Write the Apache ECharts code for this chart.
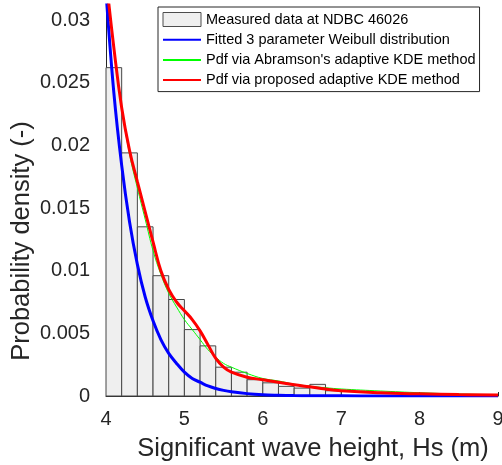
<!DOCTYPE html>
<html>
<head>
<meta charset="utf-8">
<script src="https://cdn.jsdelivr.net/npm/echarts@6/dist/echarts.min.js"></script>
<style>
html,body{margin:0;padding:0;background:#fff;overflow:hidden;}
#chart{width:502px;height:465px;}
</style>
</head>
<body>
<div id="chart"></div>
<script>
// Histogram bins (left edges / right edges) and densities
const binLeft  = [4.0,4.2,4.4,4.6,4.8,5.0,5.2,5.4,5.6,5.8,6.0,6.2,6.4,6.6,6.8];
const binRight = [4.2,4.4,4.6,4.8,5.0,5.2,5.4,5.6,5.8,6.0,6.2,6.4,6.6,6.8,7.0];
const binDensity = [0.0262,0.0194,0.0135,0.0096,0.0077,0.0053,0.0040,0.0023,0.0019,0.0013,0.00105,0.00077,0.00063,0.00093,0.00042];

// Curve sample positions and values
const curveX = [4.0,4.1,4.2,4.3,4.4,4.5,4.6,4.7,4.8,4.9,5.0,5.1,5.2,5.3,5.4,5.5,5.6,5.8,6.0,6.2,6.4,6.6,6.8,7.0,7.5,8.0,8.5,9.0];
const weibullPdf = [0.0322,0.0242,0.0184,0.0139,0.0105,0.0079,0.0060,0.0045,0.0034,0.0026,0.0019,0.0014,0.0011,0.0008,0.0006,0.00045,0.00034,0.00019,0.0001,0.00006,0.00003,0.00002,0.00001,0.00001,0,0,0,0];
const abramsonPdf = [0.0334,0.0278,0.0230,0.0193,0.0166,0.0141,0.0116,0.0097,0.0082,0.0071,0.0061,0.0053,0.0045,0.0037,0.0031,0.0026,0.0023,0.0018,0.0014,0.0012,0.00095,0.00078,0.00066,0.00056,0.0004,0.00026,0.00016,0.0001];
const proposedPdf = [0.0334,0.0278,0.0230,0.0196,0.0171,0.0147,0.0123,0.0100,0.0085,0.0075,0.0068,0.0061,0.0052,0.0041,0.0030,0.0023,0.0019,0.0015,0.0013,0.0011,0.0009,0.00073,0.00055,0.00042,0.00026,0.00017,0.00011,0.00008];

// Tick labels
const xTicks = [4,5,6,7,8,9];
const yTicks = [0,0.005,0.01,0.015,0.02,0.025,0.03];

const seriesNames = ['Measured data at NDBC 46026','Fitted 3 parameter Weibull distribution',"Pdf via Abramson's adaptive KDE method",'Pdf via proposed adaptive KDE method'];
const xTitle = 'Significant wave height, Hs (m)';
const yTitle = 'Probability density (-)';

const FONT = '"Liberation Sans", Arial, sans-serif';
const TXT = '#262626';

const chart = echarts.init(document.getElementById('chart'), null, {renderer:'canvas'});
const zip = (xs, ys) => xs.map((x,i)=>[x, ys[i]]);

const option = {
  animation:false,
  backgroundColor:'#fff',
  textStyle:{fontFamily:FONT},
  grid:{left:106, right:4, top:5, bottom:69, containLabel:false, outerBoundsMode:'none'},
  xAxis:{
    type:'value', min:4, max:9, interval:1,
    axisLine:{show:true, onZero:false, lineStyle:{color:TXT, width:1}},
    axisTick:{show:true, inside:true, length:4, lineStyle:{color:TXT}, customValues:xTicks},
    axisLabel:{color:TXT, fontSize:20, fontFamily:FONT, margin:13, customValues:xTicks, hideOverlap:false},
    splitLine:{show:false}
  },
  yAxis:{
    type:'value', min:0, max:0.0312,
    axisLine:{show:true, lineStyle:{color:TXT, width:1}},
    axisTick:{show:true, inside:true, length:4, lineStyle:{color:TXT}, customValues:yTicks},
    axisLabel:{color:TXT, fontSize:20, fontFamily:FONT, margin:16, customValues:yTicks,
      formatter:v=>String(+v.toFixed(4))},
    splitLine:{show:false}
  },
  legend:{
    orient:'vertical', left:158, top:7,
    padding:[5,4,4,4],
    itemWidth:38, itemHeight:14, itemGap:5.2,
    backgroundColor:'#fff', borderColor:TXT, borderWidth:1,
    textStyle:{color:'#000', fontSize:14.5, fontFamily:FONT, lineHeight:14},
    data:[
      {name:seriesNames[0], icon:'rect', itemStyle:{color:'#efefef', borderColor:'#4d4d4d', borderWidth:1}},
      {name:seriesNames[1], itemStyle:{opacity:0}},
      {name:seriesNames[2], itemStyle:{opacity:0}},
      {name:seriesNames[3], itemStyle:{opacity:0}}
    ]
  },
  graphic:[
    {type:'text', x:313, y:449, style:{text:xTitle, font:'25.5px '+FONT, fill:TXT, textAlign:'center', textVerticalAlign:'middle'}},
    {type:'text', x:22, y:241, rotation:Math.PI/2, style:{text:yTitle, font:'25.5px '+FONT, fill:TXT, textAlign:'center', textVerticalAlign:'middle'}}
  ],
  series:[
    {
      name:seriesNames[0], type:'custom',
      data:binLeft.map((l,i)=>[l, binRight[i], binDensity[i]]),
      encode:{x:[0,1], y:2},
      itemStyle:{color:'#efefef', borderColor:'#4d4d4d', borderWidth:1},
      renderItem:function(params, api){
        const p0 = api.coord([api.value(0), api.value(2)]);
        const p1 = api.coord([api.value(1), 0]);
        return {type:'rect', shape:{x:p0[0], y:p0[1], width:p1[0]-p0[0], height:p1[1]-p0[1]},
          style:{fill:'#efefef', stroke:'#474747', lineWidth:1}};
      },
      z:1
    },
    {name:seriesNames[1], type:'line', data:zip(curveX, weibullPdf), smooth:0.35,
      symbol:'none', lineStyle:{color:'#0000ff', width:3}, itemStyle:{color:'#0000ff'}, z:2},
    {name:seriesNames[2], type:'line', data:zip(curveX, abramsonPdf), smooth:0.4,
      symbol:'none', lineStyle:{color:'#00ff00', width:1}, itemStyle:{color:'#00ff00'}, z:3},
    {name:seriesNames[3], type:'line', data:zip(curveX, proposedPdf), smooth:0.45,
      symbol:'none', lineStyle:{color:'#ff0000', width:3}, itemStyle:{color:'#ff0000'}, z:4}
  ]
};
chart.setOption(option);
</script>
</body>
</html>
